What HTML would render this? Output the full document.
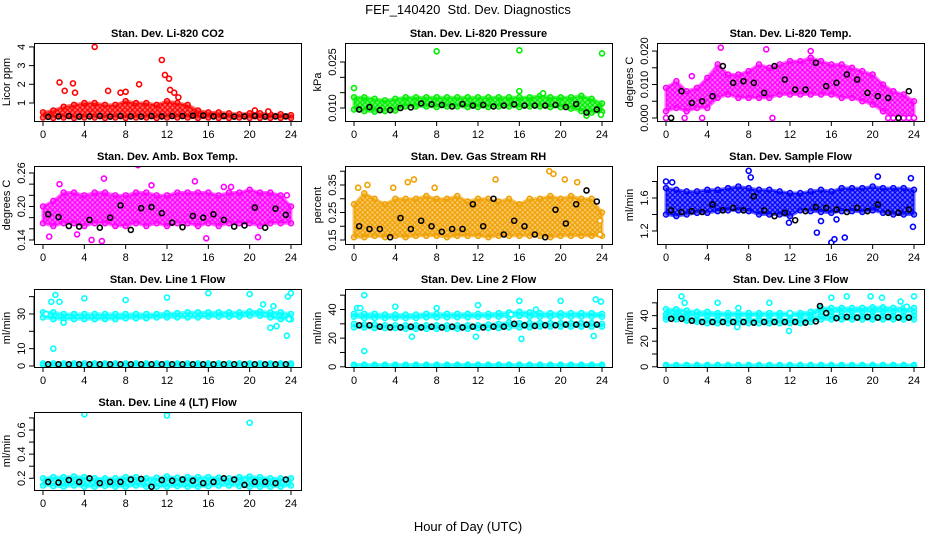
<!DOCTYPE html>
<html><head><meta charset="utf-8">
<style>
html,body{margin:0;padding:0;background:#fff;}
svg{display:block;font-family:"Liberation Sans",Arial,sans-serif;}
</style></head>
<body>
<svg id="chart" width="936" height="540" viewBox="0 0 936 540">
<defs id="defs"></defs>
<text x="468" y="14" text-anchor="middle" font-size="13">FEF_140420&#160; Std. Dev. Diagnostics</text>
<text x="468" y="531" text-anchor="middle" font-size="13">Hour of Day (UTC)</text>
</svg>
<script>
const hours = [0,1,2,3,4,5,6,7,8,9,10,11,12,13,14,15,16,17,18,19,20,21,22,23,24];
const blackHours = [0.5,1.5,2.5,3.5,4.5,5.5,6.5,7.5,8.5,9.5,10.5,11.5,12.5,13.5,14.5,15.5,16.5,17.5,18.5,19.5,20.5,21.5,22.5,23.5];
const xTicks = [0,4,8,12,16,20,24];

const co2Lo = [0.22,0.2,0.22,0.2,0.22,0.22,0.2,0.22,0.2,0.22,0.22,0.2,0.22,0.22,0.22,0.2,0.22,0.2,0.2,0.22,0.2,0.2,0.2,0.2,0.2];
const co2Hi = [0.5,0.6,0.8,0.9,1.0,1.0,0.9,0.9,1.1,1.0,1.0,0.9,1.1,1.0,0.9,0.6,0.5,0.5,0.45,0.4,0.45,0.45,0.4,0.4,0.35];
const co2Black = [0.26,0.28,0.3,0.27,0.28,0.3,0.27,0.3,0.28,0.27,0.3,0.28,0.3,0.3,0.32,0.33,0.28,0.3,0.27,0.28,0.3,0.27,0.28,0.28];
const co2Out = [[5,4.0],[11.5,3.3],[1.6,2.1],[2.1,1.65],[2.9,2.05],[3.1,1.55],[6.3,1.65],[9.3,2.0],[11.8,2.5],[12.2,2.3],[12.3,1.7],[12.7,1.55],[13.1,1.3],[7.5,1.55],[8,1.6],[20.5,0.6],[21.8,0.55]];

const presLo = [0.0095,0.009,0.0088,0.009,0.0092,0.0105,0.0105,0.0105,0.0103,0.0105,0.0105,0.0103,0.0103,0.0103,0.0105,0.0105,0.0103,0.0105,0.0105,0.0103,0.0103,0.0098,0.009,0.0085,0.0088];
const presHi = [0.0135,0.0135,0.013,0.0125,0.013,0.0135,0.0135,0.0135,0.0135,0.0135,0.0135,0.0135,0.0135,0.0135,0.0135,0.0135,0.0135,0.0135,0.014,0.0135,0.0135,0.0135,0.014,0.013,0.0115];
const presBlack = [0.0095,0.0103,0.0093,0.0093,0.01,0.0102,0.0115,0.0112,0.011,0.0105,0.0113,0.0108,0.011,0.0105,0.0108,0.0112,0.0108,0.0108,0.0108,0.011,0.0103,0.0113,0.0085,0.0095];
const presOut = [[8,0.0285],[16,0.0288],[24,0.0278],[0,0.0165],[16,0.0155],[18.3,0.0148],[22.5,0.0075],[23.9,0.0078]];

const tempLo = [0.002,0.003,0.002,0.003,0.003,0.006,0.007,0.006,0.006,0.006,0.006,0.007,0.007,0.007,0.007,0.007,0.007,0.006,0.006,0.005,0.004,0.002,0.0,0.0,0.0];
const tempHi = [0.009,0.011,0.008,0.009,0.012,0.016,0.013,0.013,0.014,0.016,0.015,0.016,0.017,0.017,0.018,0.017,0.016,0.016,0.015,0.014,0.013,0.010,0.008,0.007,0.005];
const tempBlack = [0.0,0.008,0.0045,0.005,0.0065,0.0155,0.0105,0.011,0.0105,0.0075,0.0155,0.0115,0.0085,0.0085,0.0165,0.0095,0.0105,0.013,0.0115,0.0075,0.0065,0.006,0.0,0.008];
const tempOut = [[0,0],[1.8,0],[3.5,0],[10.3,0],[5.3,0.021],[14,0.02],[9.7,0.0205],[21.5,0],[22,0],[22.5,0],[23,0],[23.5,0],[24,0],[2.5,0.0125]];

const ambLo = [0.17,0.165,0.17,0.17,0.165,0.17,0.17,0.165,0.165,0.17,0.165,0.17,0.165,0.17,0.17,0.165,0.17,0.165,0.17,0.17,0.17,0.165,0.17,0.17,0.17];
const ambHi = [0.2,0.21,0.225,0.225,0.22,0.225,0.225,0.22,0.22,0.225,0.225,0.22,0.22,0.225,0.225,0.225,0.225,0.22,0.225,0.225,0.23,0.225,0.225,0.22,0.2];
const ambBlack = [0.186,0.181,0.165,0.164,0.176,0.162,0.18,0.202,0.158,0.197,0.199,0.188,0.171,0.163,0.183,0.18,0.186,0.176,0.164,0.166,0.198,0.162,0.196,0.185];
const ambOut = [[0.6,0.146],[1.6,0.24],[5.9,0.25],[9.2,0.274],[14.7,0.245],[4.7,0.14],[5.7,0.138],[17.5,0.235],[18.2,0.235],[23.6,0.22],[20.8,0.145],[3.3,0.15],[15.8,0.143],[10.5,0.238]];

const rhLo = [0.16,0.16,0.165,0.16,0.165,0.16,0.165,0.165,0.165,0.16,0.165,0.165,0.165,0.16,0.165,0.165,0.165,0.165,0.165,0.16,0.165,0.165,0.165,0.165,0.165];
const rhHi = [0.28,0.32,0.3,0.28,0.3,0.3,0.3,0.31,0.3,0.3,0.31,0.29,0.3,0.3,0.29,0.3,0.28,0.3,0.3,0.31,0.3,0.31,0.3,0.3,0.25];
const rhBlack = [0.2,0.19,0.19,0.16,0.23,0.19,0.22,0.2,0.18,0.19,0.19,0.28,0.2,0.3,0.17,0.22,0.2,0.17,0.16,0.26,0.21,0.28,0.33,0.29];
const rhOut = [[0.4,0.34],[1.3,0.35],[5.8,0.37],[13.7,0.37],[18.9,0.4],[19.3,0.39],[20.4,0.37],[21.6,0.36],[5.2,0.36],[3.8,0.34],[7.8,0.34],[23.8,0.22],[23.8,0.17]];

const flowLo = [1.4,1.38,1.4,1.42,1.42,1.44,1.45,1.45,1.44,1.4,1.4,1.4,1.38,1.45,1.44,1.43,1.42,1.44,1.44,1.43,1.45,1.42,1.4,1.4,1.4];
const flowHi = [1.72,1.7,1.68,1.68,1.7,1.7,1.72,1.74,1.72,1.7,1.7,1.68,1.66,1.66,1.68,1.7,1.68,1.72,1.72,1.72,1.74,1.72,1.72,1.72,1.7];
const flowBlack = [1.45,1.43,1.44,1.43,1.52,1.45,1.48,1.45,1.62,1.45,1.38,1.42,1.33,1.44,1.49,1.48,1.46,1.43,1.48,1.44,1.52,1.42,1.42,1.46];
const flowOut = [[0,1.8],[0.6,1.79],[8,1.93],[8.2,1.85],[14.6,1.18],[15,1.32],[16,1.06],[16.3,1.1],[17.3,1.12],[16.5,1.34],[23.7,1.84],[23.9,1.25],[20.5,1.86],[11.9,1.3]];

const l1Lo = [28,27,27,27,27,27,27,27,27.5,27.5,27.5,28,28,28,28,28,28.5,28.5,28.5,28.5,29,29,28,27,27];
const l1Hi = [31,31,30,30,30,30,30,30,30,30,30,30,30.5,30.5,31,31,31,31,31,31,31.5,31.5,31,31,30];
const l1BaseLo = [0.5,0.5,0.5,0.5,0.5,0.5,0.5,0.5,0.5,0.5,0.5,0.5,0.5,0.5,0.5,0.5,0.5,0.5,0.5,0.5,0.5,0.5,0.5,0.5,0.5];
const l1BaseHi = [1.5,1.5,1.5,1.5,1.5,1.5,1.5,1.5,1.5,1.5,1.5,1.5,1.5,1.5,1.5,1.5,1.5,1.5,1.5,1.5,1.5,1.5,1.5,1.5,1.5];
const l1Black = [1,1,1,1,1,1,1,1,1,1,1,1,1,1,1,1,1,1,1,1,1,1,1,1];
const l1Out = [[0.3,30],[1.2,41],[0.8,37],[1.6,37],[4,39],[8,38],[12,39.5],[16,42],[20,41.5],[21.3,35.5],[22.3,34.5],[22,22],[22.6,23],[23.6,17.5],[23.7,40],[24,42],[1,10],[2,25],[23.8,27]];

const l2UpLo = [35,34,34,34,34,34,34,34.5,34.5,34.5,34.5,34.5,35,35,35,35,35.5,35,35,35,35,35,35,35,35];
const l2UpHi = [37,37,37,36.5,36.5,36.5,36.5,37,37,37,37,37,37,37,37.5,38,38.5,38,37.5,37.5,37.5,37.5,37.5,37.5,37];
const l2DnLo = [27.5,27.5,27,27,27,26.5,26.5,26.5,26.5,26.5,26.5,26.5,27,27,27,27.5,27.5,27.5,28,28,28,28,28,28,28];
const l2DnHi = [30,29.5,29.5,29,29,29,29,29,29,29,29,29,29,29.5,30,31,30.5,30.5,30.5,30.5,30.5,30.5,30.5,30.5,30];
const l2Black = [29,29,28,27.5,27.5,28,27.5,28,27.5,28,27.5,28,27.5,28,28,30,29,28.5,29,29,29.5,29.5,29.5,29.5];
const l2Out = [[0.3,41],[0.6,41],[1,50],[4,42],[8,41],[12,43],[16,46],[20,46],[23.4,47],[23.9,45.5],[1,11],[5.6,21],[11.8,21],[16.2,19.5],[23.2,21.5],[17.6,40],[15.2,36.5]];

const l3UpLo = [41,41,40,40,40,40,40,40,40,40,40,40,40,40,40,43,43,43,43,43,43,43,43,43,43];
const l3UpHi = [45,45,44,43,43,42,42,42,42,42,42,42,42,42,43,46,46,46,46,46,46.5,46.5,46,46,46];
const l3DnLo = [37,37,36,35,34,34,34,34,34,34,34,34,34,34,35,37,37,37,37,37,37,37,37,37,37];
const l3DnHi = [39,39,38,37,37,37,37,37,37,37,37,37,37,37,38,40,40,40,40,40,40,40,40,40,40];
const l3Black = [37.5,37.5,36,35,35,35,35,35,34.5,35,35,35,35,34.5,35.5,42,38,39,38.5,39,38.5,39,38.5,38.5];
const l3Out = [[1.5,55],[1.8,50],[5,50],[10,50],[16,54],[17.5,55],[19.8,55],[20.9,54],[22.7,51],[24,55],[7,46],[6.9,31],[11.9,28],[23.3,47],[12,42]];
const l3OutBlack = [[14.9,47.5]];

const l4Lo = [0.14,0.135,0.13,0.14,0.13,0.13,0.135,0.13,0.13,0.14,0.13,0.13,0.13,0.135,0.13,0.13,0.135,0.14,0.14,0.135,0.13,0.13,0.13,0.13,0.14];
const l4Hi = [0.2,0.21,0.21,0.215,0.21,0.2,0.2,0.2,0.21,0.21,0.2,0.205,0.215,0.205,0.21,0.21,0.21,0.205,0.2,0.21,0.215,0.21,0.2,0.2,0.2];
const l4Black = [0.17,0.165,0.185,0.17,0.2,0.16,0.17,0.17,0.19,0.195,0.13,0.185,0.18,0.19,0.18,0.16,0.17,0.2,0.19,0.145,0.17,0.17,0.16,0.19];
const l4Out = [[4,0.73],[12,0.72],[20,0.66]];

const panels = [
 {id:'co2',title:'Stan. Dev. Li-820 CO2',ylab:'Licor ppm',col:0,row:0,dom:[0.036,4.21],ticks:[1,2,3,4],labels:['1','2','3','4'],color:'#ff0000',bands:[[co2Lo,co2Hi]],black:co2Black,out:co2Out},
 {id:'pressure',title:'Stan. Dev. Li-820 Pressure',ylab:'kPa',col:1,row:0,dom:[0.00576,0.0312],ticks:[0.010,0.015,0.020,0.025],labels:['0.010','','','0.025'],color:'#00ee00',bands:[[presLo,presHi]],black:presBlack,out:presOut},
 {id:'licor-temp',title:'Stan. Dev. Li-820 Temp.',ylab:'degrees C',col:2,row:0,dom:[-0.0009,0.0224],ticks:[0,0.005,0.010,0.015,0.020],labels:['0.000','','0.010','','0.020'],color:'#ff00ff',bands:[[tempLo,tempHi]],black:tempBlack,out:tempOut},
 {id:'amb-temp',title:'Stan. Dev. Amb. Box Temp.',ylab:'degrees C',col:0,row:1,dom:[0.1328,0.2725],ticks:[0.14,0.16,0.18,0.20,0.22,0.24,0.26],labels:['0.14','','','0.20','','','0.26'],color:'#ff00ff',bands:[[ambLo,ambHi]],black:ambBlack,out:ambOut},
 {id:'rh',title:'Stan. Dev. Gas Stream RH',ylab:'percent',col:1,row:1,dom:[0.1355,0.419],ticks:[0.15,0.20,0.25,0.30,0.35,0.40],labels:['0.15','','0.25','','0.35',''],color:'#f0a000',bands:[[rhLo,rhHi]],black:rhBlack,out:rhOut},
 {id:'sample-flow',title:'Stan. Dev. Sample Flow',ylab:'ml/min',col:2,row:1,dom:[1.042,1.988],ticks:[1.2,1.4,1.6,1.8],labels:['1.2','','1.6',''],color:'#0000ff',bands:[[flowLo,flowHi]],black:flowBlack,out:flowOut},
 {id:'line1',title:'Stan. Dev. Line 1 Flow',ylab:'ml/min',col:0,row:2,dom:[-0.58,44.4],ticks:[0,10,20,30,40],labels:['0','10','','30',''],color:'#00ffff',bands:[[l1Lo,l1Hi],[l1BaseLo,l1BaseHi]],black:l1Black,out:l1Out},
 {id:'line2',title:'Stan. Dev. Line 2 Flow',ylab:'ml/min',col:1,row:2,dom:[-0.14,54.3],ticks:[0,10,20,30,40,50],labels:['0','','20','','40',''],color:'#00ffff',bands:[[l2UpLo,l2UpHi],[l2DnLo,l2DnHi],[l1BaseLo,l1BaseHi]],black:l2Black,out:l2Out},
 {id:'line3',title:'Stan. Dev. Line 3 Flow',ylab:'ml/min',col:2,row:2,dom:[-0.16,60.8],ticks:[0,10,20,30,40,50],labels:['0','','20','','40',''],color:'#00ffff',bands:[[l3UpLo,l3UpHi],[l3DnLo,l3DnHi],[l1BaseLo,l1BaseHi]],black:l3Black,out:l3Out,outBlack:l3OutBlack},
 {id:'line4',title:'Stan. Dev. Line 4 (LT) Flow',ylab:'ml/min',col:0,row:3,dom:[0.103,0.749],ticks:[0.2,0.3,0.4,0.5,0.6,0.7],labels:['0.2','','0.4','','0.6',''],color:'#00ffff',bands:[[l4Lo,l4Hi]],black:l4Black,out:l4Out}
];

const NS='http://www.w3.org/2000/svg';
const svg=document.getElementById('chart');
const defs=document.getElementById('defs');
function mk(tag,attrs,parent){const e=document.createElementNS(NS,tag);for(const k in attrs)e.setAttribute(k,attrs[k]);(parent||svg).appendChild(e);return e;}

const colLeft=[34,345,657], rowTop=[43,166,289,412], boxW=267, boxH=78;

panels.forEach(p=>{
  const L=colLeft[p.col], T=rowTop[p.row], B=T+boxH;
  // ring texture pattern to mimic dense overplotted circles
  const pat=mk('pattern',{id:'pat-'+p.id,patternUnits:'userSpaceOnUse',width:5,height:5},defs);
  mk('rect',{x:0,y:0,width:5,height:5,fill:p.color,opacity:0.55},pat);
  mk('circle',{cx:2.5,cy:2.5,r:1.9,fill:'none',stroke:p.color,'stroke-width':1.3},pat);
  const g=mk('g',{});
  
  
  const xs=h=>L+9+h*(248/24);
  const ys=v=>B-(v-p.dom[0])/(p.dom[1]-p.dom[0])*boxH;
  const clip=mk('clipPath',{id:'clip-'+p.id},g);
  mk('rect',{x:L,y:T,width:boxW,height:boxH},clip);
  const marks=mk('g',{'clip-path':'url(#clip-'+p.id+')'},g);
  
  
  p.bands.forEach(([lo,hi])=>{
    let pts=hours.map((h,i)=>xs(h)+','+ys(hi[i]));
    pts=pts.concat(hours.slice().reverse().map((h,j)=>{const i=hours.length-1-j;return xs(h)+','+ys(lo[i]);}));
    const poly=mk('polygon',{points:pts.join(' '),fill:'url(#pat-'+p.id+')',stroke:p.color,'stroke-width':3,'stroke-opacity':0.6,'stroke-linejoin':'round'},marks);
    
    
    hours.forEach((h,i)=>{
      [lo[i],hi[i]].forEach(v=>{
        const c=mk('circle',{cx:xs(h),cy:ys(v),r:2.5,fill:'none',stroke:p.color,'stroke-width':1.5},marks);
        
        
      });
    });
  });
  p.out.forEach(([h,v])=>{
    const c=mk('circle',{cx:xs(h),cy:ys(v),r:2.5,fill:'#fff',stroke:p.color,'stroke-width':1.6},marks);
    
    
  });
  p.black.forEach((v,i)=>{
    const c=mk('circle',{cx:xs(blackHours[i]),cy:ys(v),r:2.5,fill:'none',stroke:'#000','stroke-width':1.6},marks);
    
    
  });
  (p.outBlack||[]).forEach(([h,v])=>{
    const c=mk('circle',{cx:xs(h),cy:ys(v),r:2.5,fill:'none',stroke:'#000','stroke-width':1.6},marks);
    
    
  });
  const box=mk('rect',{x:L+0.5,y:T+0.5,width:boxW,height:boxH,fill:'none',stroke:'#000','stroke-width':1},g);
  
  
  const t=mk('text',{x:L+boxW/2,y:T-6,'text-anchor':'middle','font-size':11,'font-weight':'bold'},g);
  t.textContent=p.title;
  
  
  xTicks.forEach(h=>{
    mk('line',{x1:xs(h),x2:xs(h),y1:B,y2:B+5,stroke:'#000','stroke-width':1},g);
    const tl=mk('text',{x:xs(h),y:B+17,'text-anchor':'middle','font-size':11},g);
    tl.textContent=h;
    
    
  });
  p.ticks.forEach((v,i)=>{
    const y=ys(v);
    mk('line',{x1:L-5,x2:L,y1:y,y2:y,stroke:'#000','stroke-width':1},g);
    if(p.labels[i]){
      const tl=mk('text',{x:L-9,y:y,'text-anchor':'middle','font-size':11,transform:'rotate(-90 '+(L-9)+' '+y+')'},g);
      tl.textContent=p.labels[i];
      
      
    }
  });
  mk('line',{x1:L,x2:L,y1:ys(p.ticks[0]),y2:ys(p.ticks[p.ticks.length-1]),stroke:'#000'},g);
  const yl=mk('text',{x:L-24,y:T+boxH/2,'text-anchor':'middle','font-size':11,transform:'rotate(-90 '+(L-24)+' '+(T+boxH/2)+')'},g);
  yl.textContent=p.ylab;
  
  
});
</script>
</body></html>
